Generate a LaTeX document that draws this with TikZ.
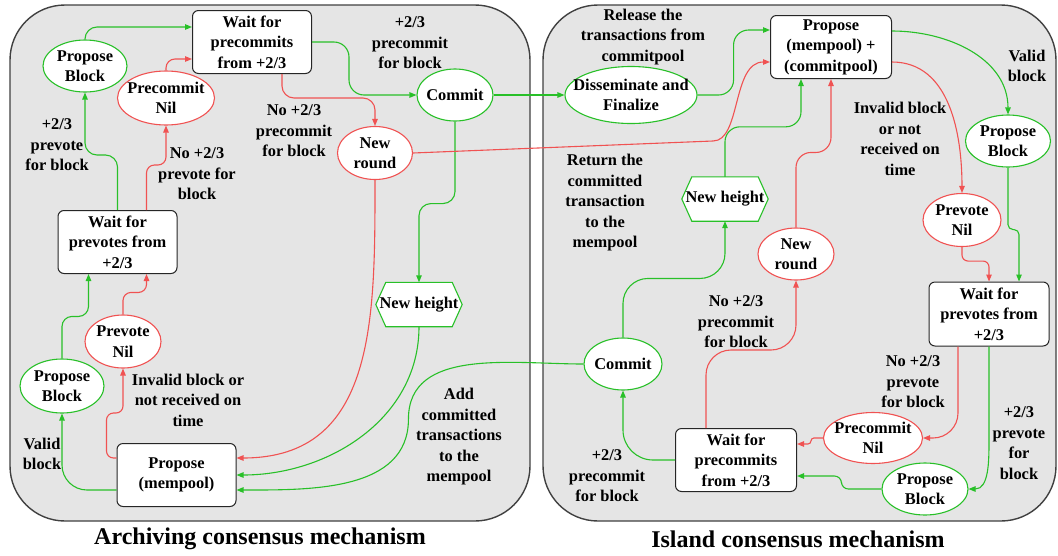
\documentclass[tikz,border=0pt]{standalone}
\usepackage{fontspec}
\setmainfont{Liberation Serif}
\usetikzlibrary{arrows.meta,shapes.geometric,calc}
\definecolor{gline}{RGB}{40,192,40}
\definecolor{rline}{RGB}{240,82,82}
\definecolor{panelfill}{RGB}{229,229,229}
\definecolor{panelborder}{RGB}{64,64,64}
\pgfdeclarelayer{bg}
\pgfsetlayers{bg,main}
\begin{document}
\begin{tikzpicture}[x=1pt,y=-1pt,
  font=\fontsize{16.4}{20.5}\selectfont\bfseries,
  gbox/.style={draw=black!85, rounded corners=6pt, fill=white, minimum width=119pt, minimum height=63pt, align=center, inner sep=1pt, line width=1pt},
  gell/.style={ellipse, draw=gline, fill=white, line width=1.1pt, align=center, inner xsep=-6pt, inner ysep=0pt},
  rell/.style={ellipse, draw=rline, fill=white, line width=1.1pt, align=center, inner xsep=-6pt, inner ysep=0pt},
  hexbox/.style={rectangle, minimum width=86pt, minimum height=44pt, inner sep=0pt},
  hexline/.style={draw=gline, fill=white, line width=1.1pt},
  lbl/.style={align=center, inner sep=0pt},
  ttl/.style={font=\fontsize{24}{28}\selectfont\bfseries, inner sep=0pt},
  ga/.style={draw=gline, line width=1.1pt, -{Triangle[length=7pt,width=5.5pt]}},
  ra/.style={draw=rline, line width=1.1pt, -{Triangle[length=7pt,width=5.5pt]}},
  panel/.style={rounded corners=55pt, fill=panelfill, draw=panelborder, line width=1.4pt}]
\useasboundingbox (0,0) rectangle (1058,555);

% ---------------- left panel nodes
\node[gbox] (lwpc) at (252,42) {Wait for\\precommits\\from +2/3};
\node[gell, minimum width=84pt, minimum height=52pt] (lpb1) at (85,66) {Propose\\Block};
\node[rell, minimum width=97pt, minimum height=54pt] (lpcn) at (166,98) {Precommit\\Nil};
\node[gell, minimum width=76pt, minimum height=52pt] (lcm) at (455,95) {Commit};
\node[rell, minimum width=75pt, minimum height=53pt] (lnr) at (375,153) {New\\round};
\node[gbox] (lwpv) at (117.5,242) {Wait for\\prevotes from\\+2/3};
\node[hexbox] (lnh) at (419,304.5) {New height};
\node[rell, minimum width=76pt, minimum height=53pt] (lpvn) at (123,341.5) {Prevote\\Nil};
\node[gell, minimum width=84pt, minimum height=54pt] (lpb2) at (62,386) {Propose\\Block};
\node[gbox] (lpm) at (176.5,475) {Propose\\(mempool)};

\node[lbl] (l1) at (410,43) {+2/3\\precommit\\for block};
\node[lbl] (l2) at (294,131) {No +2/3\\precommit\\for block};
\node[lbl] (l3) at (57,145) {+2/3\\prevote\\for block};
\node[lbl] (l4) at (197,174) {No +2/3\\prevote for\\block};
\node[lbl] (l5) at (188,400) {Invalid block or\\not received on\\time};
\node[lbl] (l6) at (42,454) {Valid\\block};
\node[lbl] (l7) at (459,437) {Add\\committed\\transactions\\to the\\mempool};
\node[ttl] (t1) at (260,539) {Archiving consensus mechanism};

% ---------------- right panel nodes
\node[gbox, minimum width=121pt] (rpm) at (831,47) {Propose\\(mempool) +\\(commitpool)};
\node[gell, inner xsep=-12pt, minimum width=132pt, minimum height=57pt] (rdf) at (631,95) {Disseminate and\\Finalize};
\node[gell, minimum width=85pt, minimum height=52pt] (rpb) at (1008,141) {Propose\\Block};
\node[rell, minimum width=78pt, minimum height=53pt] (rpvn) at (962,220) {Prevote\\Nil};
\node[hexbox] (rnh) at (725,199) {New height};
\node[rell, minimum width=76pt, minimum height=52pt] (rnr) at (796,254) {New\\round};
\node[gbox, minimum width=120pt, minimum height=64pt] (rwpv) at (989,314) {Wait for\\prevotes from\\+2/3};
\node[gell, minimum width=78pt, minimum height=52pt] (rcm) at (623,364) {Commit};
\node[rell, minimum width=99pt, minimum height=51pt] (rpcn) at (873,438) {Precommit\\Nil};
\node[gbox, minimum width=121pt] (rwpc) at (736,460) {Wait for\\precommits\\from +2/3};
\node[gell, minimum width=86pt, minimum height=52pt] (rpb2) at (925,489) {Propose\\Block};

\node[lbl] (r1) at (643,37) {Release the\\transactions from\\commitpool};
\node[lbl] (r2) at (1027,66) {Valid\\block};
\node[lbl] (r3) at (900,139) {Invalid block\\or not\\received on\\time};
\node[lbl] (r4) at (605,203) {Return the\\committed\\transaction\\to the\\mempool};
\node[lbl] (r5) at (736,322) {No +2/3\\precommit\\for block};
\node[lbl] (r6) at (913,382) {No +2/3\\prevote\\for block};
\node[lbl] (r7) at (1019,443) {+2/3\\prevote\\for\\block};
\node[lbl] (r8) at (607,476) {+2/3\\precommit\\for block};
\node[ttl] (t2) at (798,539) {Island consensus mechanism};

% ---------------- panels and hexagons (background)
\begin{pgfonlayer}{bg}
\draw[panel] (10,5) rectangle (530,521);
\draw[panel] (543,5) rectangle (1056,521);
\foreach \h in {lnh,rnh}{
  \draw[hexline] (\h.west) -- ([xshift=10pt]\h.north west) -- ([xshift=-10pt]\h.north east)
    -- (\h.east) -- ([xshift=-10pt]\h.south east) -- ([xshift=10pt]\h.south west) -- cycle;
}
\end{pgfonlayer}

% ---------------- left connectors
\draw[ga, rounded corners=12pt] (lpb1.north) |- ([yshift=15pt]lwpc.west);
\draw[ra, rounded corners=9pt] (lpcn.north) |- ([yshift=-17pt]lwpc.west);
\draw[ga, rounded corners=15pt] (lwpc.east) -- ++(37,0) |- (lcm.west);
\draw[ra, rounded corners=12pt] ([xshift=30pt]lwpc.south) -- ++(0,24) -| (lnr.north);
\draw[ga, rounded corners=12pt] (lcm.south) -- ++(0,82) -| (lnh.north);
\draw[ga] (lcm.east) -- (rdf.west);
\draw[ra] (lnr.east) -- ++(300,-12) .. controls +(28,0) and +(-38,0) .. ([yshift=-15pt]rpm.west);
\draw[ra] (lnr.south) to[out=-90,in=0,looseness=1.15] ([yshift=17pt]lpm.east);
\draw[ga] (lnh.south) to[out=-90,in=0] (lpm.east);
\draw[ga] (rcm.west) to[out=180,in=90] ++(-175,55) to[out=-90,in=0] ([yshift=-15pt]lpm.east);
\draw[ga, rounded corners=12pt] (lwpv.north) -- ++(0,-55) -| (lpb1.south);
\draw[ra, rounded corners=8pt] ([xshift=29pt]lwpv.north) -- ++(0,-45) -| (lpcn.south);
\draw[ga, rounded corners=10pt] (lpb2.north) -- ++(0,-42) -| ([xshift=-29pt]lwpv.south);
\draw[ra, rounded corners=8pt] (lpvn.north) -- ++(0,-22) -| ([xshift=29pt]lwpv.south);
\draw[ga, rounded corners=25pt] ([yshift=-15pt]lpm.west) -| (lpb2.south);
\draw[ra, rounded corners=7pt] ([yshift=17pt]lpm.west) -| ++(-10,-45) -| (lpvn.south);

% ---------------- right connectors
\draw[ga, rounded corners=15pt] (rdf.east) -- ++(36,0) |- ([yshift=17pt]rpm.west);
\draw[ga, rounded corners=15pt] (rnh.north) -- ++(0,-50) -| ([xshift=-30pt]rpm.south);
\draw[ra, rounded corners=15pt] (rnr.north) -- ++(0,-75) -| (rpm.south);
\draw[ga] ([yshift=16pt]rpm.east) to[out=0,in=90] (rpb.north);
\draw[ra] ([yshift=-15pt]rpm.east) to[out=0,in=90] (rpvn.north);
\draw[ra, rounded corners=6pt] (rpvn.south) -- ++(0,14) -| (rwpv.north);
\draw[ga, rounded corners=5pt] (rpb.south) -- ++(0,62) -| ([xshift=30pt]rwpv.north);
\draw[ra, rounded corners=25pt] ([xshift=-31pt]rwpv.south) |- (rpcn.east);
\draw[ga] (rwpv.south) -- ++(0,95) to[out=-90,in=0] (rpb2.east);
\draw[ra, rounded corners=3pt] (rpcn.west) -- ++(-12,0) |- ([yshift=16pt]rwpc.east);
\draw[ga, rounded corners=7pt] (rpb2.west) -- ++(-40,0) |- ([yshift=-16pt]rwpc.east);
\draw[ga, rounded corners=30pt] (rwpc.west) -| (rcm.south);
\draw[ra, rounded corners=25pt] ([xshift=-30pt]rwpc.north) -- ++(0,-78) -| (rnr.south);
\draw[ga, rounded corners=25pt] (rcm.north) -- ++(0,-59) -| (rnh.south);
\end{tikzpicture}
\end{document}
